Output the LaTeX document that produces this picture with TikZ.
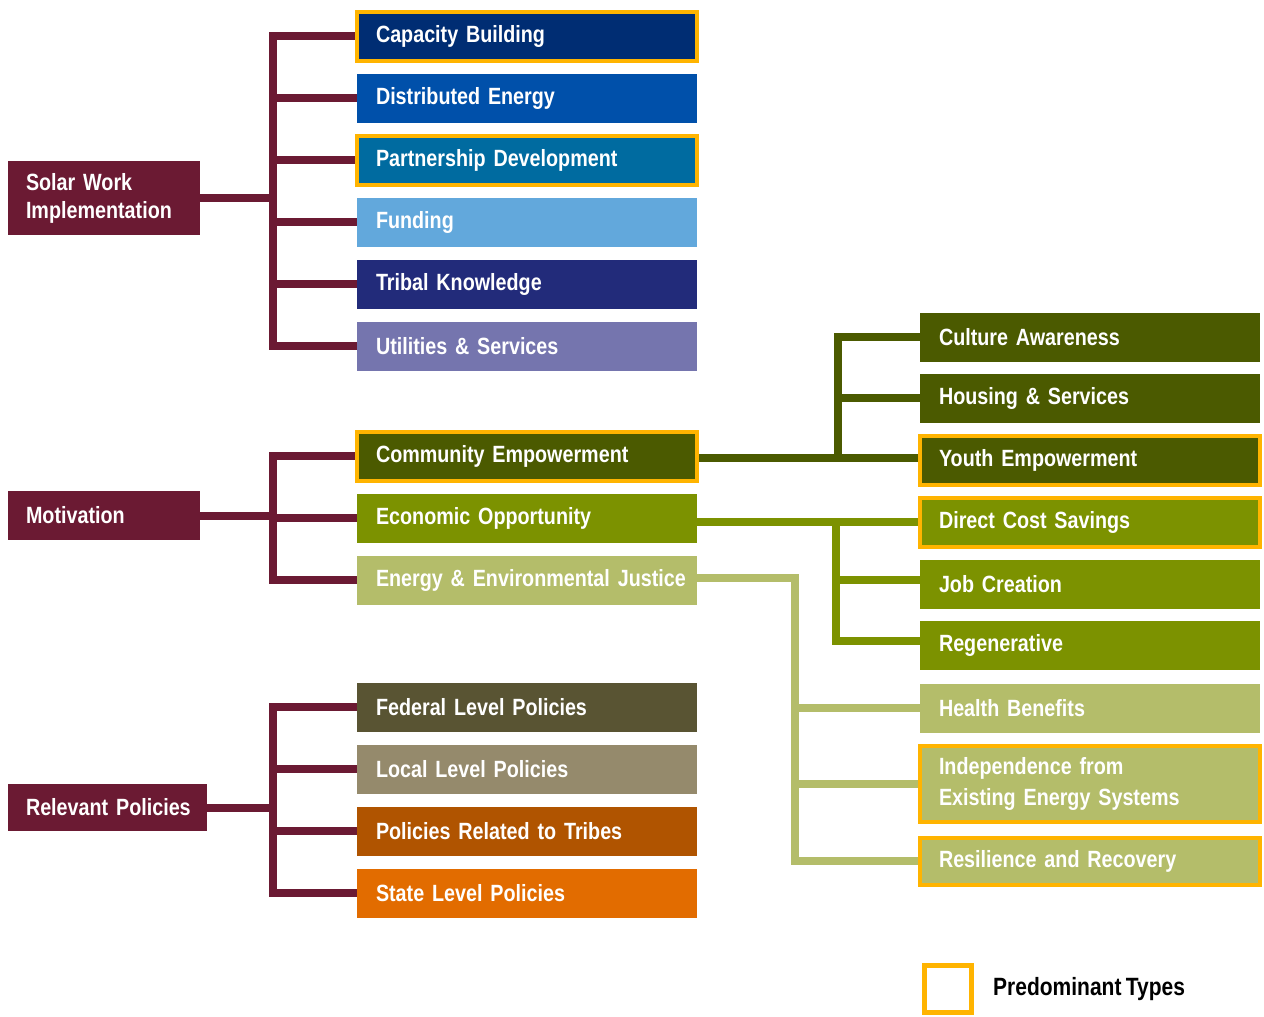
\documentclass[tikz,border=0pt]{standalone}
\usepackage{fontspec}
\newfontfamily\boxfont[FakeStretch=0.84,WordSpace=0.75]{Liberation Sans}
\definecolor{maroon}{HTML}{6B1A33}
\definecolor{hiY}{HTML}{FFB400}
\definecolor{cNavy}{HTML}{002D73}
\definecolor{cBlue}{HTML}{0050AA}
\definecolor{cTeal}{HTML}{006BA0}
\definecolor{cSky}{HTML}{62A8DC}
\definecolor{cIndigo}{HTML}{222B7A}
\definecolor{cLav}{HTML}{7575AE}
\definecolor{oDark}{HTML}{4B5A00}
\definecolor{oMid}{HTML}{7C9200}
\definecolor{oLight}{HTML}{B4BD6A}
\definecolor{pFed}{HTML}{595433}
\definecolor{pLoc}{HTML}{958A6C}
\definecolor{pTri}{HTML}{B05400}
\definecolor{pSta}{HTML}{E26C00}
\begin{document}
\hyphenpenalty=10000
\exhyphenpenalty=10000
\begin{tikzpicture}[x=1pt,y=-1pt,
  lbl/.style={font=\boxfont\bfseries\fontsize{23.5}{28}\selectfont},
  box/.style={rectangle, lbl, inner ysep=0pt, inner xsep=19pt, minimum height=49pt,
    text width=302pt, align=left, text=white},
  rbox/.style={box},
  lbox/.style={rectangle, lbl, fill=maroon, text=white, inner ysep=0pt, inner xsep=18pt, align=left},
  hl/.style={draw=hiY, line width=4pt},
  conn/.style={line width=8pt, line join=miter, line cap=butt},
]
\useasboundingbox (0,0) rectangle (1264,1017);
\fill[white] (0,0) rectangle (1264,1017);

% left category boxes
\node[lbox, text width=156pt, minimum height=74pt] (sw) at (104,198) {Solar Work\\Implementation};
\node[lbox, text width=156pt, minimum height=49pt] (mo) at (104,515.5) {Motivation};
\node[lbox, text width=163pt, minimum height=47pt] (rp) at (107.5,807.5) {\mbox{Relevant Policies}};

% middle column
\node[box, fill=cNavy, hl] (cb) at (527,36) {Capacity Building};
\node[box, fill=cBlue] (de) at (527,98) {Distributed Energy};
\node[box, fill=cTeal, hl] (pd) at (527,160) {Partnership Development};
\node[box, fill=cSky] (fu) at (527,222) {Funding};
\node[box, fill=cIndigo] (tk) at (527,284) {Tribal Knowledge};
\node[box, fill=cLav] (us) at (527,346) {Utilities \& Services};

\node[box, fill=oDark, hl] (ce) at (527,456) {Community Empowerment};
\node[box, fill=oMid] (eo) at (527,518) {Economic Opportunity};
\node[box, fill=oLight] (ej) at (527,580) {\mbox{Energy \& Environmental Justice}};

\node[box, fill=pFed] (fl) at (527,707) {Federal Level Policies};
\node[box, fill=pLoc] (ll) at (527,769) {Local Level Policies};
\node[box, fill=pTri] (pr) at (527,831) {Policies Related to Tribes};
\node[box, fill=pSta] (sl) at (527,893) {State Level Policies};

% right column
\node[rbox, fill=oDark] (ca) at (1090,337) {Culture Awareness};
\node[rbox, fill=oDark] (hs) at (1090,398) {Housing \& Services};
\node[rbox, fill=oDark, hl] (ye) at (1090,460) {Youth Empowerment};
\node[rbox, fill=oMid, hl] (dc) at (1090,522) {Direct Cost Savings};
\node[rbox, fill=oMid] (jc) at (1090,584) {Job Creation};
\node[rbox, fill=oMid] (rg) at (1090,645) {Regenerative};
\node[rbox, fill=oLight] (hb) at (1090,708) {Health Benefits};
\node[rbox, fill=oLight, hl, minimum height=76pt, font=\boxfont\bfseries\fontsize{23.5}{31}\selectfont] (ie) at (1090,784) {Independence from\\Existing Energy Systems};
\node[rbox, fill=oLight, hl, minimum height=47pt] (rr) at (1090,861) {Resilience and Recovery};

% trunk coordinates
\coordinate (t1) at (273,0);
\coordinate (t2) at (838,0);
\coordinate (t3) at (836,0);
\coordinate (t4) at (795,0);

% maroon trees
\foreach \n in {cb,de,pd,fu,tk,us}
  \draw[conn, maroon] (sw.east) -- (sw.east -| t1) |- (\n.west);
\foreach \n in {ce,eo,ej}
  \draw[conn, maroon] (mo.east) -- (mo.east -| t1) |- (\n.west);
\foreach \n in {fl,ll,pr,sl}
  \draw[conn, maroon] (rp.east) -- (rp.east -| t1) |- (\n.west);

% green trees
\draw[conn, oDark] ([yshift=-2pt]ce.east) -- ([yshift=-2pt]ce.east -| ye.west);
\foreach \n in {ca,hs}
  \draw[conn, oDark] ([yshift=-2pt]ce.east -| t2) |- (\n.west);
\draw[conn, oMid] ([yshift=-4pt]eo.east) -- ([yshift=-4pt]eo.east -| dc.west);
\foreach \n in {jc,rg}
  \draw[conn, oMid] ([yshift=-4pt]eo.east -| t3) |- ([yshift=4pt]\n.west);
\foreach \n in {hb,ie,rr}
  \draw[conn, oLight] ([yshift=2pt]ej.east) -| (t4 |- \n.west) -- (\n.west);

% legend
\node[draw=hiY, line width=5pt, minimum size=47pt, inner sep=0pt] (lg) at (948,989) {};
\node[anchor=west, text=black, inner sep=0pt, font=\boxfont\bfseries\fontsize{25}{30}\selectfont] (lt) at (993,989) {Predominant Types};
\end{tikzpicture}
\end{document}
